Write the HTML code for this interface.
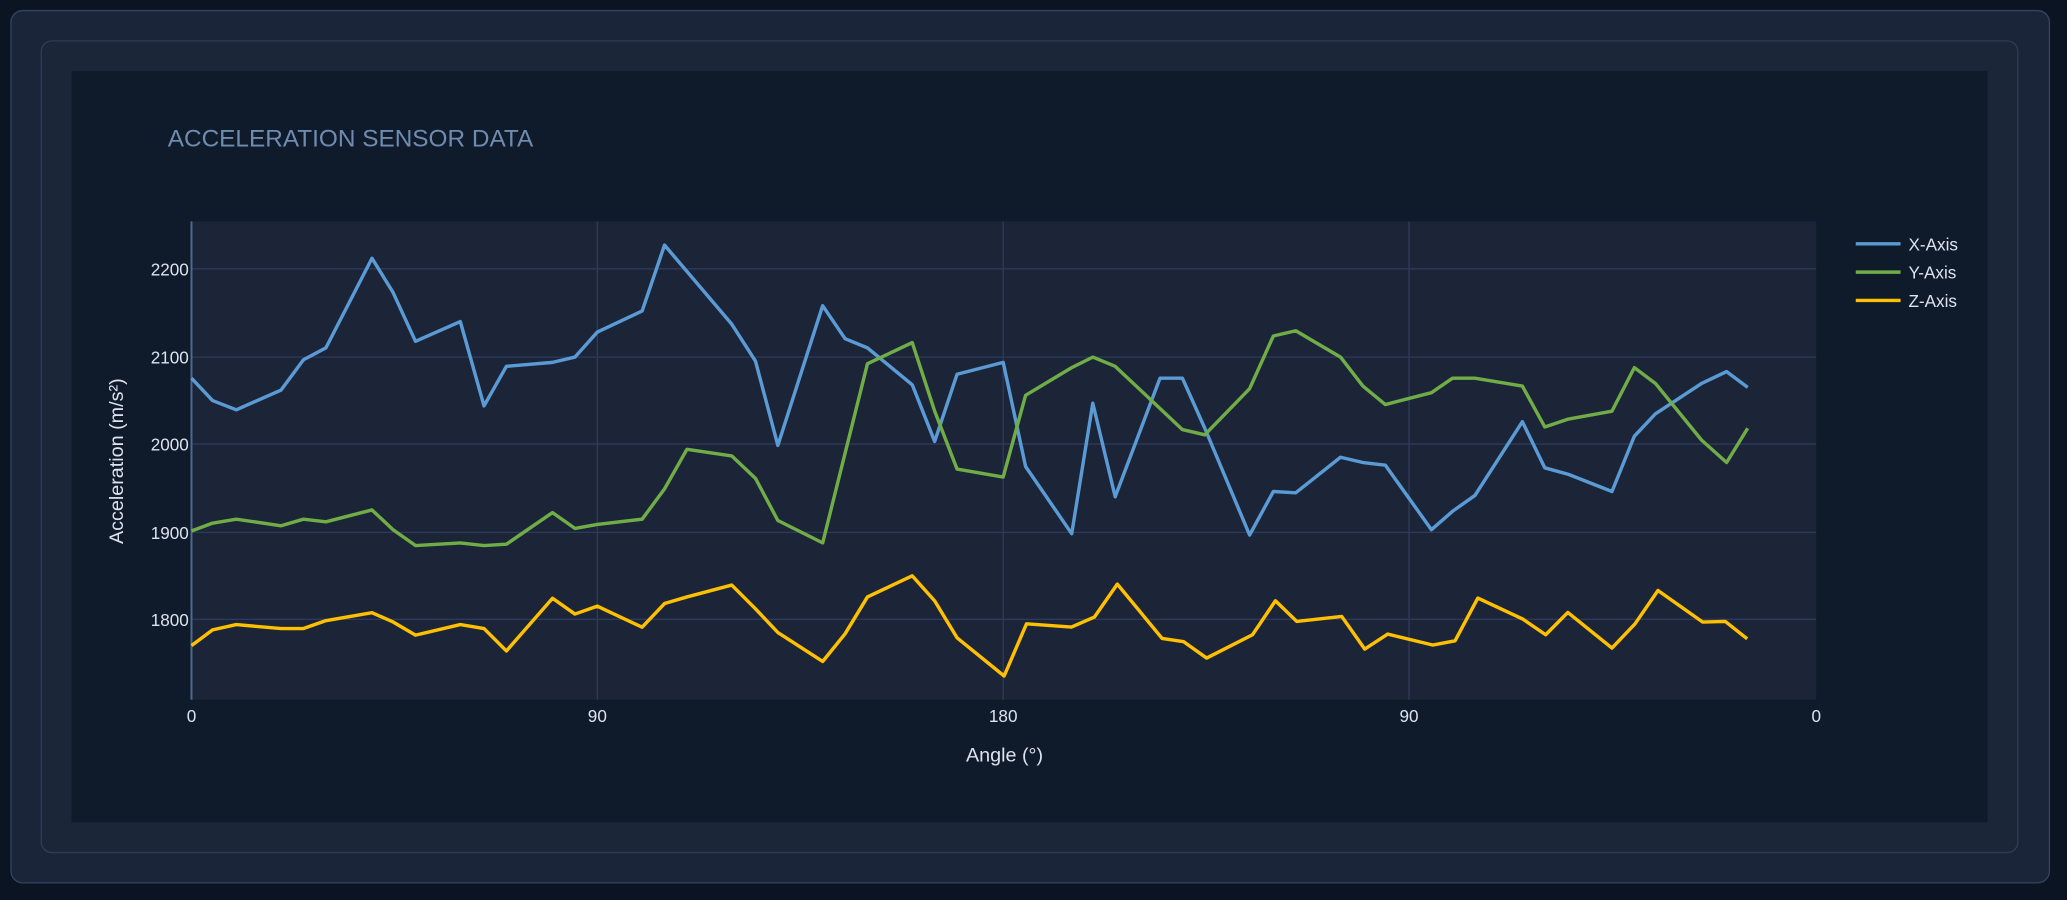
<!DOCTYPE html>
<html><head><meta charset="utf-8"><style>
html,body{margin:0;padding:0;background:#0b1422;}
svg{display:block;font-family:"Liberation Sans",sans-serif;}
</style></head><body>
<svg width="2067" height="900" viewBox="0 0 1568 683" xmlns="http://www.w3.org/2000/svg">
<rect x="0" y="0" width="1568" height="683" fill="#0b1422"/>
<rect x="8" y="8" width="1547" height="662" rx="9" fill="#1b2539" stroke="#34435e" stroke-width="1"/>
<rect x="31" y="31" width="1500" height="616" rx="8" fill="#1c2639" stroke="#2f3c57" stroke-width="1"/>
<rect x="54" y="54" width="1454" height="570" fill="#0f1a2a"/>
<text x="127" y="111" font-size="18.5" fill="#6f8cb0">ACCELERATION SENSOR DATA</text>
<rect x="145" y="168" width="1233" height="363" fill="#1c2538"/>
<g stroke="#2d3a5c" stroke-width="1">
<line x1="145" y1="204" x2="1378" y2="204"/><line x1="145" y1="271" x2="1378" y2="271"/>
<line x1="145" y1="337" x2="1378" y2="337"/><line x1="145" y1="404" x2="1378" y2="404"/>
<line x1="145" y1="470" x2="1378" y2="470"/>
<line x1="453" y1="168" x2="453" y2="531"/><line x1="761" y1="168" x2="761" y2="531"/><line x1="1069" y1="168" x2="1069" y2="531"/>
</g>
<line x1="145" y1="168" x2="145" y2="531" stroke="#4f6890" stroke-width="1.5"/>
<g font-size="13" fill="#dde3ee" text-anchor="end">
<text x="143" y="209">2200</text><text x="143" y="276">2100</text><text x="143" y="342">2000</text><text x="143" y="409">1900</text><text x="143" y="475">1800</text>
</g>
<g font-size="13" fill="#dde3ee" text-anchor="middle">
<text x="145" y="548">0</text><text x="453" y="548">90</text><text x="761" y="548">180</text><text x="1069" y="548">90</text><text x="1378" y="548">0</text>
</g>
<text x="762" y="578" font-size="15" fill="#dde3ee" text-anchor="middle">Angle (°)</text>
<text transform="translate(93,350) rotate(-90)" font-size="15" fill="#dde3ee" text-anchor="middle">Acceleration (m/s²)</text>
<g fill="none" stroke-width="2.6" stroke-linejoin="round">
<polyline stroke="#5b9bd5" points="145,287 161,304 179,311 213,296 230,273 247,264 282,196 298,222 315,259 349,244 367,308 384,278 419,275 436,271 453,252 487,236 504,186 555,246 573,274 590,338 624,232 641,257 658,264 692,292 709,335 726,284 761,275 778,354 813,405 829,306 846,377 880,287 897,287 914,325 948,406 966,373 983,374 1017,347 1034,351 1051,353 1086,402 1102,388 1119,376 1155,320 1172,355 1190,360 1223,373 1240,331 1256,314 1291,291 1310,282 1326,294"/>
<polyline stroke="#70ad47" points="145,403 161,397 179,394 213,399 230,394 247,396 282,387 298,402 315,414 349,412 367,414 384,413 419,389 436,401 453,398 487,394 504,371 521,341 555,346 573,363 590,395 624,412 658,276 692,260 709,312 726,356 761,362 778,300 813,279 829,271 846,278 880,310 897,326 914,330 948,295 966,255 983,251 1017,271 1034,293 1051,307 1086,298 1102,287 1119,287 1155,293 1172,324 1190,318 1223,312 1240,279 1256,291 1291,334 1310,351 1326,325"/>
<polyline stroke="#ffc000" points="145,490 161,478 179,474 213,477 230,477 247,471 282,465 298,472 315,482 349,474 367,477 384,494 419,454 436,466 453,460 487,476 504,458 521,453 555,444 573,462 590,480 624,502 641,481 658,453 692,437 709,456 726,484 761.7,513 778.7,473.4 812.8,475.9 830.2,468.3 847.6,443.3 881.6,484.5 898,487 915.4,499.4 950.2,481.7 967.6,455.9 983.8,471.6 1017.9,467.8 1035.4,492.6 1052.8,481.2 1086.9,489.5 1103.9,486.3 1121.2,453.9 1155.3,469.8 1172.7,481.7 1189.5,464.8 1223,491.8 1240.5,473.4 1257.9,448.1 1291.9,472.1 1309,471.6 1325.6,484.8"/>
</g>
<g stroke-width="2.6">
<line x1="1408" y1="185" x2="1442" y2="185" stroke="#5b9bd5"/>
<line x1="1408" y1="206.5" x2="1442" y2="206.5" stroke="#70ad47"/>
<line x1="1408" y1="228" x2="1442" y2="228" stroke="#ffc000"/>
</g>
<g font-size="13" fill="#dde3ee">
<text x="1448" y="190">X-Axis</text><text x="1448" y="211.5">Y-Axis</text><text x="1448" y="233">Z-Axis</text>
</g>
</svg>
</body></html>
